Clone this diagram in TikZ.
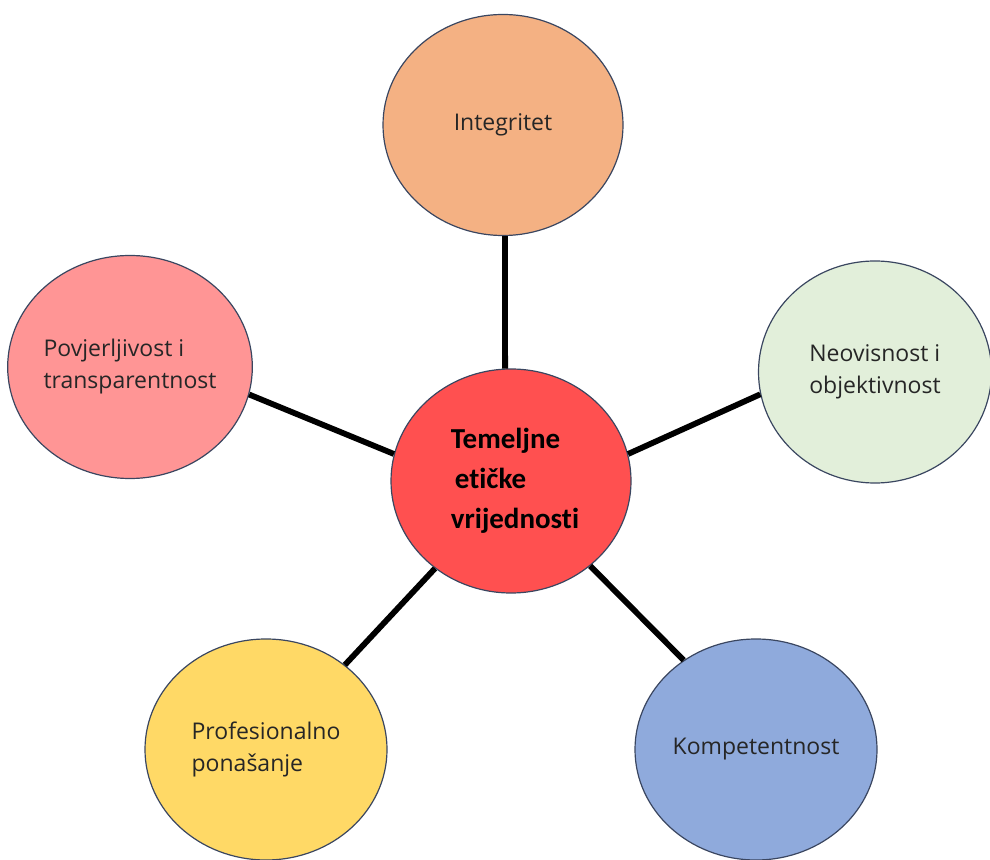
\documentclass[tikz,border=0pt]{standalone}
\usepackage{fontspec}
\setmainfont{Open Sans}
\newfontfamily\sredfont{Carlito}[Ligatures=NoCommon]
\usetikzlibrary{shapes.geometric}
\definecolor{integr}{HTML}{F4B183}
\definecolor{povj}{HTML}{FF9595}
\definecolor{neov}{HTML}{E2EFDA}
\definecolor{temelj}{HTML}{FF5050}
\definecolor{prof}{HTML}{FFD966}
\definecolor{komp}{HTML}{8FAADC}
\definecolor{rub}{HTML}{3A4660}
\begin{document}
\begin{tikzpicture}[x=0.5pt, y=-0.5pt, line join=round,
	bubble/.style={ellipse, draw=rub, line width=0.6pt, inner sep=0pt, align=left, text=black!85, font=\fontsize{11.5}{16}\selectfont},
	link/.style={line width=2.9pt}]
	\useasboundingbox (0,0) rectangle (990,860);
	% krugovi
	\node[bubble, fill=temelj, minimum width=120pt, minimum height=112pt, text=black, font=\sredfont\bfseries\fontsize{14.5}{20}\selectfont] (tem) at (511,481) {\hspace*{4pt}Temeljne\\ \hspace*{6pt}etičke\\ \hspace*{4pt}vrijednosti};
	\node[bubble, fill=integr, minimum width=120pt, minimum height=110.5pt] (integ) at (503,125) {Integritet};
	\node[bubble, fill=povj, minimum width=122pt, minimum height=111.5pt] (povjer) at (130,367) {Povjerljivost i\\ transparentnost};
	\node[bubble, fill=neov, minimum width=116.5pt, minimum height=111pt] (neovis) at (875,372) {Neovisnost i\\ objektivnost};
	\node[bubble, fill=prof, minimum width=121pt, minimum height=110.5pt] (profes) at (266,749.5) {Profesionalno\\ ponašanje};
	\node[bubble, fill=komp, minimum width=121pt, minimum height=110.5pt] (kompet) at (756,749.5) {Kompetentnost};
	% veze
	\draw[link] (integ.271) -- (tem.93);
	\draw[link] (povjer.347) -- (tem.167);
	\draw[link] (neovis.191.5) -- (tem.13.6);
	\draw[link] (profes.47.6) -- (tem.229.3);
	\draw[link] (kompet.129.8) -- (tem.313.2);
\end{tikzpicture}
\end{document}
